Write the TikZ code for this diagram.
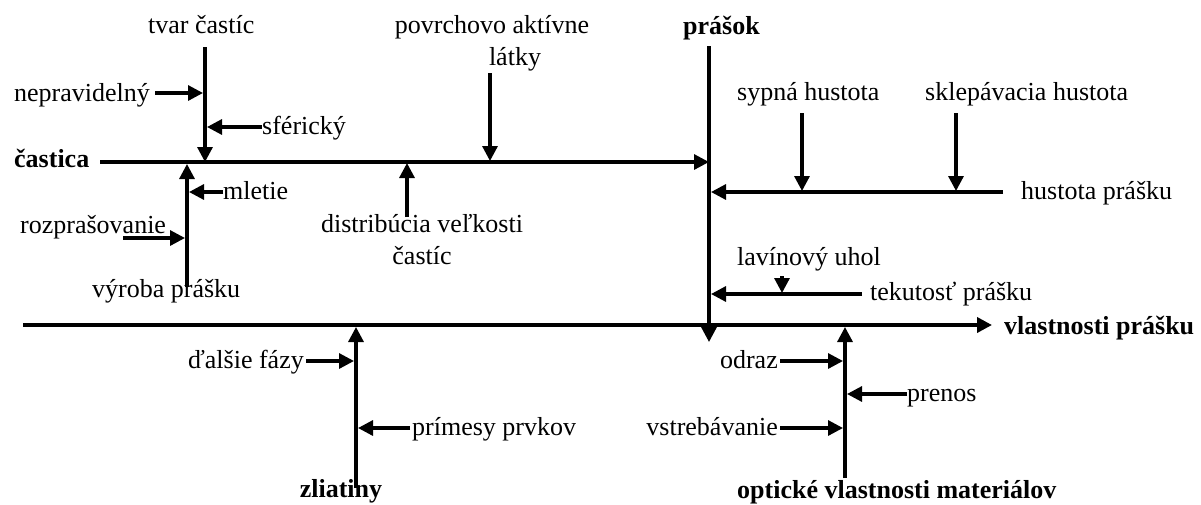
\documentclass[tikz,border=0pt]{standalone}
\usepackage{fontspec}
\setmainfont{Liberation Serif}
\usetikzlibrary{arrows.meta}

\begin{document}
\begin{tikzpicture}[
        x=1pt, y=-1pt,
        lbl/.style={inner sep=0pt, font=\fontsize{26}{32}\selectfont},
        head/.style={inner sep=0pt, font=\fontsize{26}{32}\selectfont\bfseries},
        arrow/.style={-{Triangle[length=15pt, width=15pt]}, line width=3.2pt},
        axis/.style={arrow, line width=3.6pt}
    ]
        \useasboundingbox (0,0) rectangle (1201,504);

        % Main axis
        \coordinate (axisstart) at (23,325);
        \coordinate (axisend) at (992,325);
        \node[head, anchor=base west] (vlastnosti) at (1004,334) {vlastnosti prášku};

        % Particle branch (top left)
        \node[head, anchor=base west] (castica) at (14,167) {častica};
        \coordinate (casticastart) at (100,162);
        \coordinate (casticaend) at (709,162);
        \node[lbl, anchor=base west] (tvar) at (148,33) {tvar častíc};
        \coordinate (tvartop) at (205,47);
        \coordinate (tvarend) at (205,162);
        \node[lbl, anchor=base west] (nepravidelny) at (14,101) {nepravidelný};
        \coordinate (nepstart) at (155,93);
        \coordinate (nepend) at (203,93);
        \node[lbl, anchor=base west] (sfericky) at (262,134) {sférický};
        \coordinate (sferstart) at (262,127);
        \coordinate (sferend) at (207,127);
        \node[lbl, anchor=base west] (vyroba) at (92,297) {výroba prášku};
        \coordinate (vyrobastart) at (187,287);
        \coordinate (vyrobaend) at (187,164);
        \node[lbl, anchor=base west] (mletie) at (223,199) {mletie};
        \coordinate (mletiestart) at (223,192);
        \coordinate (mletieend) at (189,192);
        \node[lbl, anchor=base west] (rozpras) at (20,233) {rozprašovanie};
        \coordinate (rozprasstart) at (123,238);
        \coordinate (rozprasend) at (185,238);
        \node[lbl, anchor=north, align=center] (povrch) at (492,15) {povrchovo aktívne\\\hspace*{46pt}látky};
        \coordinate (povrchstart) at (490,73);
        \coordinate (povrchend) at (490,161);
        \node[lbl, anchor=north, align=center] (distrib) at (422,214) {distribúcia veľkosti\\častíc};
        \coordinate (distribstart) at (407,217);
        \coordinate (distribend) at (407,163);

        % Powder branch (top right)
        \node[head, anchor=base west] (prasok) at (683,34) {prášok};
        \coordinate (prasoktop) at (709,46);
        \coordinate (prasokend) at (709,342);
        \node[lbl, anchor=base west] (hustota) at (1021,199) {hustota prášku};
        \coordinate (hustotastart) at (1003,192);
        \coordinate (hustotaend) at (711,192);
        \node[lbl, anchor=base west] (sypna) at (737,100) {sypná hustota};
        \coordinate (sypnastart) at (802,113);
        \coordinate (sypnaend) at (802,191);
        \node[lbl, anchor=base west] (sklep) at (925,100) {sklepávacia hustota};
        \coordinate (sklepstart) at (956,113);
        \coordinate (sklepend) at (956,191);
        \node[lbl, anchor=base west] (tekutost) at (870,300) {tekutosť prášku};
        \coordinate (tekutoststart) at (862,294);
        \coordinate (tekutostend) at (711,294);
        \node[lbl, anchor=base west] (lavina) at (737,265) {lavínový uhol};
        \coordinate (lavinastart) at (782,276);
        \coordinate (lavinaend) at (782,293);

        % Alloy branch (bottom left)
        \node[head, anchor=base] (zliatiny) at (341,497) {zliatiny};
        \coordinate (zliatinystart) at (356,488);
        \coordinate (zliatinyend) at (356,327);
        \node[lbl, anchor=base east] (dalsie) at (304,368) {ďalšie fázy};
        \coordinate (dalsiestart) at (306,361);
        \coordinate (dalsieend) at (354,361);
        \node[lbl, anchor=base west] (primesy) at (412,435) {prímesy prvkov};
        \coordinate (primesystart) at (410,428);
        \coordinate (primesyend) at (358,428);

        % Optical branch (bottom right)
        \node[head, anchor=base west] (opticke) at (737,498) {optické vlastnosti materiálov};
        \coordinate (optstart) at (845,478);
        \coordinate (optend) at (845,327);
        \node[lbl, anchor=base east] (odraz) at (778,368) {odraz};
        \coordinate (odrazstart) at (780,361);
        \coordinate (odrazend) at (843,361);
        \node[lbl, anchor=base west] (prenos) at (907,401) {prenos};
        \coordinate (prenosstart) at (907,394);
        \coordinate (prenosend) at (847,394);
        \node[lbl, anchor=base east] (vstreb) at (778,435) {vstrebávanie};
        \coordinate (vstrebstart) at (780,428);
        \coordinate (vstrebend) at (843,428);

        % Connections
        \draw[axis] (axisstart) -- (axisend);
        \draw[arrow] (casticastart) -- (casticaend);
        \draw[arrow] (tvartop) -- (tvarend);
        \draw[arrow] (nepstart) -- (nepend);
        \draw[arrow] (sferstart) -- (sferend);
        \draw[arrow] (vyrobastart) -- (vyrobaend);
        \draw[arrow] (mletiestart) -- (mletieend);
        \draw[arrow] (rozprasstart) -- (rozprasend);
        \draw[arrow] (povrchstart) -- (povrchend);
        \draw[arrow] (distribstart) -- (distribend);
        \draw[arrow] (prasoktop) -- (prasokend);
        \draw[arrow] (hustotastart) -- (hustotaend);
        \draw[arrow] (sypnastart) -- (sypnaend);
        \draw[arrow] (sklepstart) -- (sklepend);
        \draw[arrow] (tekutoststart) -- (tekutostend);
        \draw[arrow] (lavinastart) -- (lavinaend);
        \draw[arrow] (zliatinystart) -- (zliatinyend);
        \draw[arrow] (dalsiestart) -- (dalsieend);
        \draw[arrow] (primesystart) -- (primesyend);
        \draw[arrow] (optstart) -- (optend);
        \draw[arrow] (odrazstart) -- (odrazend);
        \draw[arrow] (prenosstart) -- (prenosend);
        \draw[arrow] (vstrebstart) -- (vstrebend);
    \end{tikzpicture}
\end{document}
